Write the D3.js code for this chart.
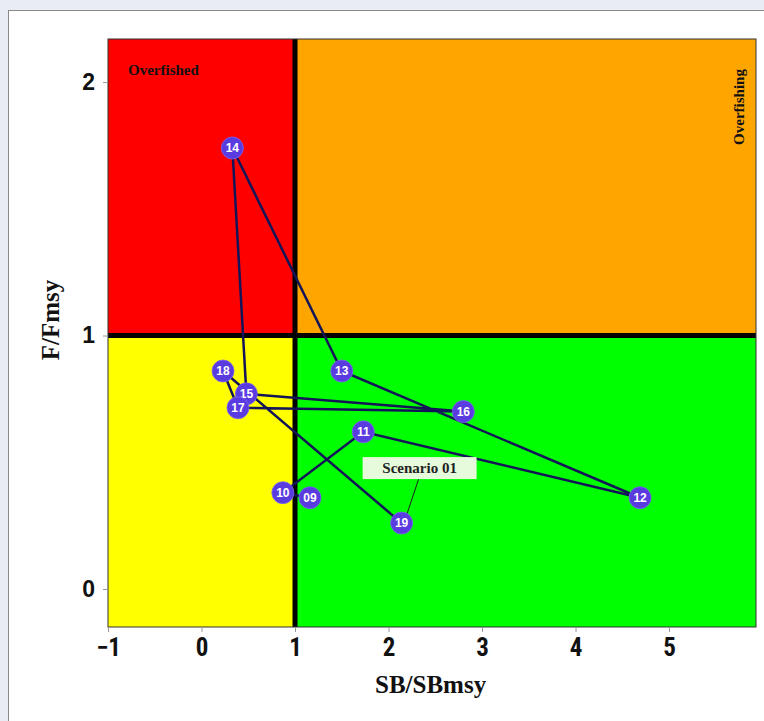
<!DOCTYPE html>
<html>
<head>
<meta charset="utf-8">
<script src="https://cdn.jsdelivr.net/npm/d3@7"></script>
<style>
  html, body { margin: 0; padding: 0; background: #e9ecf3; }
  #chart { position: absolute; left: 0; top: 0; }
</style>
</head>
<body>
<div id="chart"></div>
<script>
// Data
const years = ["09", "10", "11", "12", "13", "14", "15", "16", "17", "18", "19"];
const sbRatio = [1.16, 0.87, 1.73, 4.69, 1.50, 0.33, 0.48, 2.80, 0.39, 0.23, 2.14];
const fRatio = [0.36, 0.38, 0.62, 0.36, 0.86, 1.74, 0.77, 0.70, 0.715, 0.86, 0.26];
const xTicks = [-1, 0, 1, 2, 3, 4, 5];
const yTicks = [0, 1, 2];
const scenarioName = "Scenario 01";

const data = years.map((y, i) => ({ year: y, sb: sbRatio[i], f: fRatio[i] }));

const W = 764, H = 721;
const margin = { top: 39, right: 8, bottom: 94, left: 108 };
const width = W - margin.left - margin.right;
const height = H - margin.top - margin.bottom;

const x = d3.scaleLinear().domain([-1, 5.93]).range([0, width]);
const y = d3.scaleLinear().domain([-0.15, 2.17]).range([height, 0]);

const root = d3.select("#chart")
  .append("svg")
  .attr("width", W)
  .attr("height", H);

// white panel
root.append("rect")
  .attr("x", 8.5).attr("y", 10.5)
  .attr("width", W).attr("height", H)
  .attr("fill", "#fff")
  .attr("stroke", "#8a8a8a")
  .attr("stroke-width", 1);

const svg = root.append("g")
  .attr("transform", `translate(${margin.left},${margin.top})`);

// quadrants
const x0 = x.domain()[0], x1 = x.domain()[1];
const y0 = y.domain()[0], y1 = y.domain()[1];
const quads = [
  { a: x0, b: 1, c: 1, d: y1, color: "#ff0000" },
  { a: 1, b: x1, c: 1, d: y1, color: "#ffa500" },
  { a: x0, b: 1, c: y0, d: 1, color: "#ffff00" },
  { a: 1, b: x1, c: y0, d: 1, color: "#00ff00" }
];
svg.selectAll(".quad")
  .data(quads)
  .join("rect")
  .attr("x", d => x(d.a))
  .attr("y", d => y(d.d))
  .attr("width", d => x(d.b) - x(d.a))
  .attr("height", d => y(d.c) - y(d.d))
  .attr("fill", d => d.color);

// reference lines at 1
svg.append("line")
  .attr("x1", x(1)).attr("x2", x(1))
  .attr("y1", 0).attr("y2", height)
  .attr("stroke", "#000").attr("stroke-width", 5);
svg.append("line")
  .attr("x1", 0).attr("x2", width)
  .attr("y1", y(1)).attr("y2", y(1))
  .attr("stroke", "#000").attr("stroke-width", 5);

// frame
svg.append("rect")
  .attr("width", width).attr("height", height)
  .attr("fill", "none")
  .attr("stroke", "#333")
  .attr("stroke-width", 1);

// axes
const xAxis = svg.append("g")
  .attr("transform", `translate(0,${height})`)
  .call(d3.axisBottom(x).tickValues(xTicks).tickSize(5).tickPadding(6)
    .tickFormat(d => d < 0 ? "\u2212" + Math.abs(d) : d));
xAxis.select(".domain").remove();
xAxis.selectAll(".tick line").attr("stroke", "#999");
xAxis.selectAll(".tick text")
  .attr("fill", "#111")
  .style("font-family", "'Liberation Sans Narrow', 'Roboto Condensed', sans-serif")
  .style("font-weight", "bold")
  .style("font-size", "25px");

const yAxis = svg.append("g")
  .call(d3.axisLeft(y).tickValues(yTicks).tickSize(5).tickPadding(8)
    .tickFormat(d3.format("d")));
yAxis.select(".domain").remove();
yAxis.selectAll(".tick line").attr("stroke", "#999");
yAxis.selectAll(".tick text")
  .attr("fill", "#111")
  .style("font-family", "'Liberation Sans', Arial, sans-serif")
  .style("font-weight", "bold")
  .style("font-size", "23px");

// axis titles
root.append("text")
  .attr("x", margin.left + x(2.45))
  .attr("y", 693)
  .attr("text-anchor", "middle")
  .style("font-family", "'Liberation Serif', 'DejaVu Serif', serif")
  .style("font-weight", "bold")
  .style("font-size", "25px")
  .attr("fill", "#111")
  .text("SB/SBmsy");

root.append("text")
  .attr("transform", `translate(59,${320}) rotate(-90)`)
  .attr("text-anchor", "middle")
  .style("font-family", "'Liberation Serif', 'DejaVu Serif', serif")
  .style("font-weight", "bold")
  .style("font-size", "25px")
  .attr("fill", "#111")
  .text("F/Fmsy");

// quadrant labels
svg.append("text")
  .attr("x", 20).attr("y", 36)
  .style("font-family", "'Liberation Serif', serif")
  .style("font-weight", "bold")
  .style("font-size", "15px")
  .attr("fill", "#111")
  .text("Overfished");

svg.append("text")
  .attr("transform", `translate(${width - 12},68) rotate(-90)`)
  .attr("text-anchor", "middle")
  .style("font-family", "'Liberation Serif', serif")
  .style("font-weight", "bold")
  .style("font-size", "15px")
  .attr("fill", "#111")
  .text("Overfishing");

// trajectory
const line = d3.line()
  .x(d => x(d.sb))
  .y(d => y(d.f));

svg.append("path")
  .datum(data)
  .attr("fill", "none")
  .attr("stroke", "#141458")
  .attr("stroke-width", 2.5)
  .attr("d", line);

// scenario label with leader to last point
const last = data[data.length - 1];
const boxW = 114, boxH = 22;
const boxX = x(last.sb) - 39, boxY = y(last.f) - 66;
svg.append("line")
  .attr("x1", boxX + 56).attr("y1", boxY + boxH)
  .attr("x2", x(last.sb) + 3).attr("y2", y(last.f) - 2)
  .attr("stroke", "#222")
  .attr("stroke-width", 1);
svg.append("rect")
  .attr("x", boxX).attr("y", boxY)
  .attr("width", boxW).attr("height", boxH)
  .attr("fill", "#e6fadc");
svg.append("text")
  .attr("x", boxX + boxW / 2).attr("y", boxY + 16)
  .attr("text-anchor", "middle")
  .style("font-family", "'Liberation Serif', serif")
  .style("font-weight", "bold")
  .style("font-size", "15px")
  .attr("fill", "#222")
  .text(scenarioName);

// points
const pts = svg.selectAll(".pt")
  .data(data)
  .join("g")
  .attr("transform", d => `translate(${x(d.sb)},${y(d.f)})`);

pts.append("circle")
  .attr("r", 11)
  .attr("fill", "#5a3be0")
  .attr("stroke", "#7a66f0")
  .attr("stroke-width", 0.8);

pts.append("text")
  .attr("text-anchor", "middle")
  .attr("dy", "0.36em")
  .style("font-family", "'Liberation Sans Narrow', 'Liberation Sans', sans-serif")
  .style("font-weight", "bold")
  .style("font-size", "12px")
  .attr("fill", "#fff")
  .text(d => d.year);
</script>
</body>
</html>
